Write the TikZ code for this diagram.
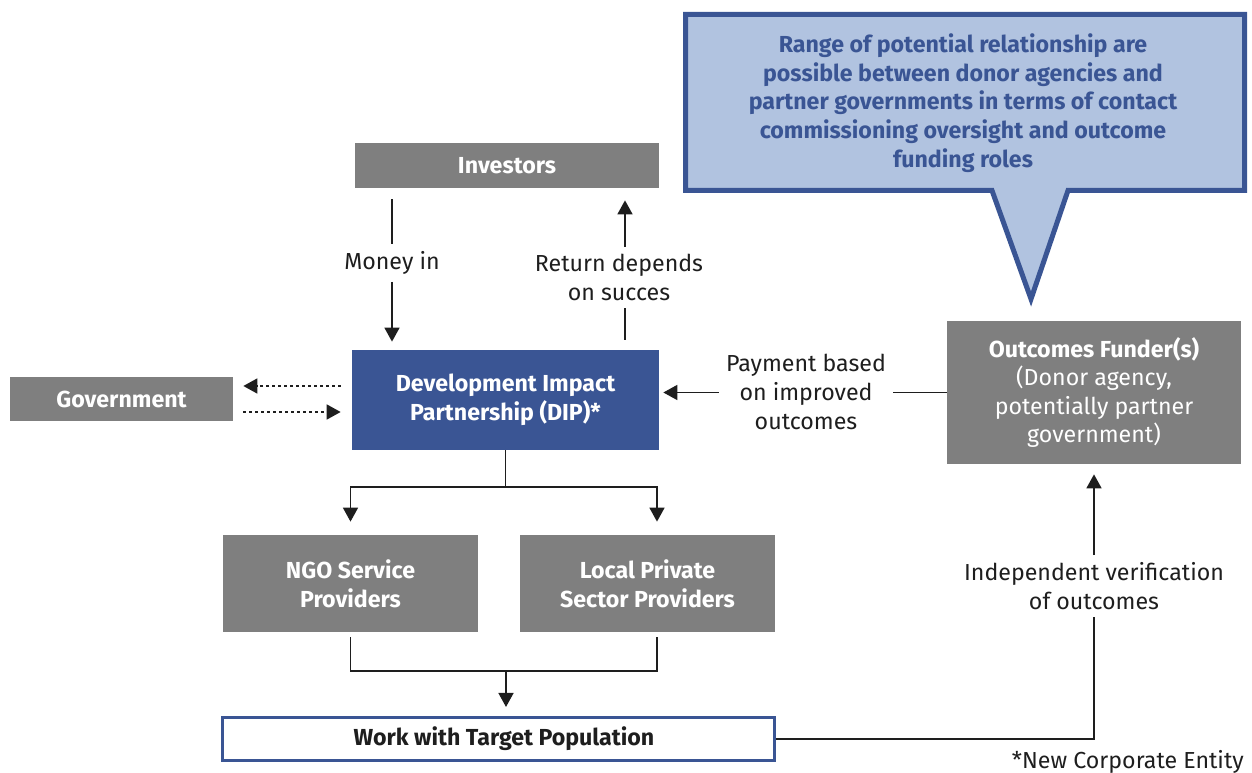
\documentclass[tikz,border=0pt]{standalone}
\usepackage{fontspec}
\setmainfont{Fira Sans}
\usetikzlibrary{arrows.meta}
\definecolor{dipblue}{HTML}{3A5594}
\definecolor{boxgray}{HTML}{7F7F7F}
\definecolor{callfill}{HTML}{B1C3E0}
\definecolor{ink}{HTML}{1E1E1E}
\begin{document}
\begin{tikzpicture}[x=0.02cm,y=-0.02cm,
  every node/.style={font=\fontsize{13.2}{16.3}\selectfont, align=center, inner sep=0pt},
  boldtext/.style={font=\fontsize{13.2}{16.3}\selectfont\bfseries},
  graybox/.style={fill=boxgray, text=white, boldtext},
  conn/.style={draw=ink, line width=1.1pt},
  tip/.style={-{Triangle[width=8.5pt,length=8pt]}},
  dotted line/.style={dash pattern=on 1.7pt off 1.7pt},
  lab/.style={fill=white, inner sep=4pt, text=ink}]
\useasboundingbox (0,0) rectangle (1252,773);
% callout
\draw[draw=dipblue, fill=callfill, line width=2.85pt, line join=miter]
  (685.5,14.5) -- (1244.5,14.5) -- (1244.5,190.5) -- (1068,190.5) -- (1031,299)
  -- (992,190.5) -- (685.5,190.5) -- cycle;
\node[text=dipblue, boldtext] (callt) at (963,103) {Range of potential relationship are\\possible between donor agencies and\\partner governments in terms of contact\\commissioning oversight and outcome\\funding roles};
% boxes
\node[graybox, minimum width=6.08cm, minimum height=0.9cm] (inv) at (507,165.5) {Investors};
\node[fill=dipblue, text=white, boldtext, minimum width=6.14cm, minimum height=2cm] (dip) at (505.5,400) {Development Impact\\Partnership (DIP)*};
\node[graybox, minimum width=4.46cm, minimum height=0.88cm] (gov) at (121.5,399) {Government};
\node[fill=boxgray, text=white, minimum width=5.88cm, minimum height=2.86cm] (fund) at (1094,392.5) {\textbf{Outcomes Funder(s)}\\(Donor agency,\\potentially partner\\government)};
\node[graybox, minimum width=5.1cm, minimum height=1.94cm] (ngo) at (350.5,583.5) {NGO Service\\Providers};
\node[graybox, minimum width=5.1cm, minimum height=1.94cm] (loc) at (647.5,583.5) {Local Private\\Sector Providers};
\node[draw=dipblue, line width=1.9pt, fill=white, text=ink, boldtext, minimum width=11.03cm, minimum height=0.854cm] (work) at (498.5,739) {\hspace{0.22cm}Work with Target Population};
% labels
\node[lab] (money) at (392,263) {Money in};
\node[lab] (ret) at (619,277.5) {Return depends\\on succes};
\node[lab] (pay) at (806,392) {Payment based\\on improved\\outcomes};
\node[lab] (ver) at (1094,586) {Independent verification\\of outcomes};
\node[anchor=east, text=ink] (note) at (1244,762) {*New Corporate Entity};
% helper coordinates
\coordinate (rx) at (625,0);
\coordinate (lx) at (657,0);
\coordinate (d1) at (0,386);
\coordinate (d2) at (0,412);
\coordinate (split) at (505.5,487);
\coordinate (merge) at (506,671);
% connectors
\draw[conn, shorten <=0.22cm] (inv.south -| money) -- (money.north);
\draw[conn, tip, shorten >=0.16cm] (money.south) -- (dip.north -| money);
\draw[conn, shorten <=0.2cm] (dip.north -| rx) -- (ret.south -| rx);
\draw[conn, tip, shorten >=0.24cm] (ret.north -| rx) -- (inv.south -| rx);
\draw[conn] (fund.west) -- (pay.east |- fund.west);
\draw[conn, tip, shorten >=0.08cm] (pay.west |- fund.west) -- (dip.east |- fund.west);
\draw[conn, dotted line, tip, shorten <=0.22cm, shorten >=0.2cm] (dip.west |- d1) -- (gov.east |- d1);
\draw[conn, dotted line, tip, shorten <=0.2cm, shorten >=0.22cm] (gov.east |- d2) -- (dip.west |- d2);
\draw[conn] (dip.south) -- (split);
\draw[conn, tip, shorten >=0.26cm] (split) -| (ngo.north);
\draw[conn, tip, shorten >=0.26cm] (split) -| (loc.north -| lx);
\draw[conn, shorten <=0.1cm] (ngo.south) |- (merge);
\draw[conn, shorten <=0.1cm] (loc.south -| lx) |- (merge);
\draw[conn, tip, shorten >=0.18cm] (merge) -- (work.north -| merge);
\draw[conn] (work.east) -| (ver.south);
\draw[conn, tip, shorten >=0.2cm] (ver.north) -- (fund.south);
\end{tikzpicture}
\end{document}
